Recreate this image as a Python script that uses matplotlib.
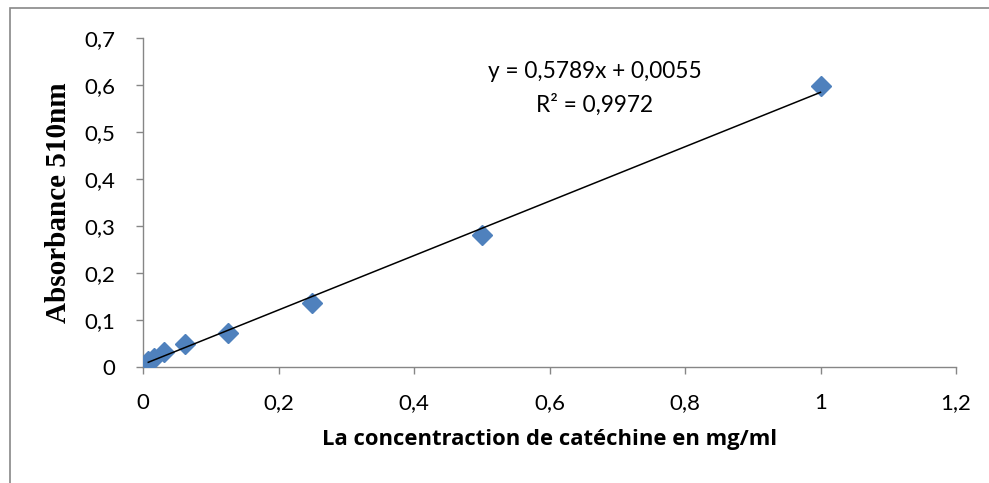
import matplotlib.pyplot as plt
from matplotlib.patches import Rectangle
from matplotlib.ticker import FuncFormatter, MultipleLocator
import numpy as np

# concentrations (mg/ml) et absorbances
conc = [0.0078, 0.0156, 0.03125, 0.0625, 0.125, 0.25, 0.5, 1.0]
absorb = [0.013, 0.020, 0.031, 0.049, 0.073, 0.137, 0.280, 0.597]

# droite de tendance
slope = 0.5789
intercept = 0.0055
r2 = 0.9972

fig = plt.figure(figsize=(9.89, 4.83), dpi=100)
ax = fig.add_axes([143 / 989, 1 - 367 / 483, 813 / 989, 329 / 483])

ax.plot(conc, absorb, linestyle="none", marker="D", ms=10.5,
        color="#4F81BD", markeredgecolor="#4F81BD", zorder=3)

xs = np.array([min(conc), max(conc)])
ax.plot(xs, slope * xs + intercept, color="black", lw=1.1, zorder=4)

ax.set_xlim(0, 1.2)
ax.set_ylim(0, 0.7)
ax.xaxis.set_major_locator(MultipleLocator(0.2))
ax.yaxis.set_major_locator(MultipleLocator(0.1))
fmt = FuncFormatter(lambda v, p: f"{round(v, 2):g}".replace(".", ","))
ax.xaxis.set_major_formatter(fmt)
ax.yaxis.set_major_formatter(fmt)

for s in ["top", "right"]:
    ax.spines[s].set_visible(False)
for s in ["left", "bottom"]:
    ax.spines[s].set_color("#868686")
    ax.spines[s].set_linewidth(1.0)
ax.tick_params(direction="out", length=5, width=1.0, color="#868686",
               labelsize=16)
ax.tick_params(axis="y", pad=15)
ax.tick_params(axis="x", pad=14)
for lab in ax.get_xticklabels() + ax.get_yticklabels():
    lab.set_family("Lato")

ax.set_xlabel("La concentraction de catéchine en mg/ml", family="Open Sans",
              fontweight="bold", fontsize=15.8, labelpad=11)
ax.set_ylabel("Absorbance 510nm", family="Liberation Serif",
              fontweight="bold", fontsize=21)
ax.yaxis.set_label_coords(-0.0873, 0.5)

eq = f"y = {slope:.4f}x + {intercept:.4f}".replace(".", ",")
ax.text(0.667, 0.628, eq, ha="center", va="center", family="Lato", fontsize=16.3)
ax.text(0.667, 0.557, f"R² = {r2:.4f}".replace(".", ","), ha="center",
        va="center", family="Lato", fontsize=16.3)

fig.patches.append(Rectangle((10 / 989, -0.1), 2, 1.1 - 8 / 483,
                             transform=fig.transFigure, fill=False,
                             edgecolor="#888888", lw=1.2))

fig.savefig("out.png", dpi=100)
